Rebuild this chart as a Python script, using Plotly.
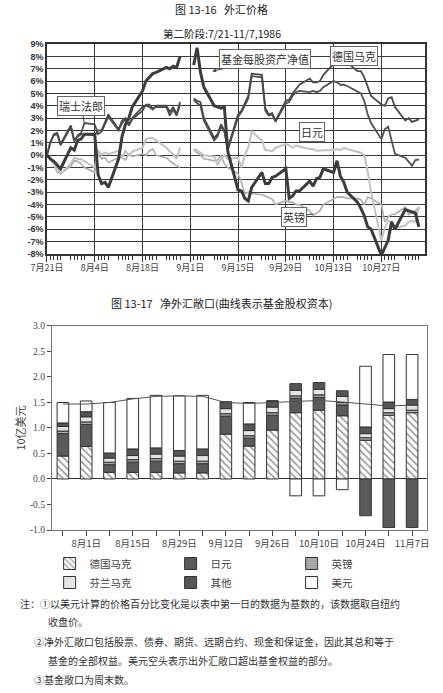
import pandas as pd
import plotly.graph_objects as go

# ---- 图 13-16 外汇价格 (daily % change vs 7/21, business days, 9/1 holiday) ----
days = pd.bdate_range("1986-07-21", "1986-11-07")

nav = [0, -0.3, -0.5, -0.8, -1.1,
       0.6, 0.4, 1.2, 1.3, 1.7,
       1.7, -1.6, -2.3, -2.2, -2.6,
       -0.3, 1.5, 2.5, 3.0, 3.9,
       5.2, 6.0, 6.3, 6.6, 6.7,
       7.1, 7.0, 7.2, 7.1, 8.0,
       None, 7.3, 8.7, 6.7, 5.5,
       4.0, 3.9, 3.8, 3.9, 0.3,
       -2.8, -2.9, -3.5, -3.7, -2.6,
       -1.4, -2.3, -2.3, -1.8, -1.7,
       -1.1, -3.5, -3.3, -2.9, -2.9,
       -2.1, -2.5, -1.9, -1.8, -1.1,
       -1.4, -0.45, -1.7, -2.2, -3.0,
       -3.8, -4.3, -4.9, -5.8, -6.0,
       -8.1, -7.5, -6.9, -5.4, -6.0,
       -4.4, -4.5, -4.6, -4.7, -5.8]

dm = [0, 1.0, 1.7, 1.8, 0.9,
      2.4, 1.2, 1.5, 1.7, 1.7,
      1.6, 2.0, 2.0, 2.6, 3.3,
      2.1, 2.8, 3.0, 2.5, 3.0,
      3.9, 4.0, 3.9, 3.7, 4.0,
      4.0, 3.5, 3.9, 3.3, 4.3,
      None, 4.6, 4.4, 4.3, 3.0,
      1.4, 1.7, 2.5, 2.0, 0.6,
      3.3, 3.6, 4.2, 4.8, 6.6,
      6.5, 3.8, 3.3, 3.4, 2.8,
      4.4, 4.5, 5.0, 5.4, 5.7,
      6.2, 5.9, 5.9, 6.0, 6.5,
      7.4, 7.3, 7.3, 7.4, 7.5,
      6.8, 6.8, 6.3, 5.6, 4.8,
      4.1, 4.0, 4.6, 4.7, 3.9,
      2.8, 3.0, 2.7, 2.8, 2.9]

chf = [0, 1.1, 1.6, 1.7, 0.8,
       2.3, 1.1, 1.6, 1.8, 2.6,
       2.5, 1.7, 1.9, 2.5, 3.1,
       2.0, 2.6, 2.9, 2.4, 2.9,
       3.6, 4.1, 4.1, 3.8, 3.9,
       3.9, 3.2, 3.7, 3.2, 4.1,
       None, 4.5, 4.2, 4.0, 2.8,
       1.2, 1.5, 2.3, 1.9, 0.4,
       3.1, 3.5, 4.0, 4.6, 6.4,
       6.3, 3.6, 3.2, 3.3, 2.7,
       4.2, 4.3, 4.8, 5.1, 5.2,
       5.1, 5.2, 5.1, 5.2, 5.5,
       6.0, 5.9, 5.7, 5.7, 5.6,
       5.1, 5.0, 4.4, 3.3, 2.6,
       1.3, 2.1, 2.3, 1.2, 0.1,
       -0.2, -0.5, -0.85, -0.4, -0.35]

yen = [0, -0.4, -0.7, -1.4, -1.5,
       -0.7, -0.2, -0.3, -0.3, -0.5,
       -1.0, 0.4, 0.0, 0.2, 0.1,
       0.35, -0.2, 0.35, 0.0, 0.3,
       0.6, 1.3, 1.4, 1.4, 1.2,
       0.6, 0.3, 0.1, -0.3, 0.6,
       None, 0.5, 0.4, 0.2, 0.0,
       -0.1, -0.8, -0.3, 0.0, -0.3,
       -0.2, -1.0, 0.0, 0.6, 1.9,
       1.2, 0.4, 0.4, 0.3, 0.6,
       0.9, 0.8, 0.6, 0.8, 0.7,
       0.5, 0.5, 0.35, 0.4, 0.4,
       0.4, 0.5, 0.4, 0.6, 0.5,
       0.3, 0.2, 0.0, -1.3, -3.0,
       -6.9, -5.9, -5.3, -5.4, -5.9,
       -5.7, -5.4, -5.3, -5.4, -4.2]

gbp = [0, -0.3, -0.6, -1.0, -1.5,
       -0.9, -0.45, -0.5, -0.7, -1.0,
       -1.4, 0.1, -0.3, -0.2, -0.6,
       -0.2, -0.2, -0.4, 0.1, -0.1,
       0.1, 0.0, 0.35, 0.5, 0.0,
       -0.2, -0.45, -0.7, -0.85, -1.0,
       None, 0.4, 0.2, 0.0, -0.3,
       -0.45, -0.4, 0.0, -0.7, -1.0,
       -1.5, -2.2, -3.1, -3.0, -3.1,
       -3.2, -3.3, -3.4, -3.55, -4.0,
       -3.7, -3.8, -3.8, -4.0, -4.0,
       -4.5, -4.9, -4.7, -4.5, -4.0,
       -3.6, -3.4, -3.4, -3.4, -3.5,
       -3.5, -3.6, -4.0, -3.4, -3.5,
       -4.0, -5.4, -5.0, -4.8, -4.8,
       -4.2, -4.8, -4.6, -4.5, -4.2]

top_ticks = pd.date_range("1986-07-21", periods=8, freq="14D")
top_ticktext = ["7月21日", "8月4日", "8月18日", "9月1日", "9月15日", "9月29日", "10月13日", "10月27日"]
pct_ticks = list(range(-8, 10))
pct_text = [f"{v}%" for v in pct_ticks]

# ---- 图 13-17 净外汇敞口 (weekly, 10亿美元) ----
weeks = pd.date_range("1986-07-25", periods=16, freq="7D")
week_text = ["", "8月1日", "", "8月15日", "", "8月29日", "", "9月12日",
             "", "9月26日", "", "10月10日", "", "10月24日", "", "11月7日"]

exp_dm = [0.45, 0.64, 0.13, 0.13, 0.13, 0.12, 0.12, 0.88, 0.645, 0.96, 1.30, 1.35, 1.24, 0.76, 1.25, 1.30]
exp_yen = [0.44, 0.43, 0.15, 0.20, 0.22, 0.18, 0.18, 0.35, 0.155, 0.29, 0.28, 0.25, 0.21, -0.72, -0.95, -0.95]
exp_gbp = [0.05, 0.05, 0.05, 0.05, 0.05, 0.05, 0.05, 0.05, 0.05, 0.05, 0.05, 0.05, 0.05, 0.05, 0.05, 0.05]
exp_fim = [0.09, 0.10, 0.08, 0.08, 0.09, 0.10, 0.11, 0.10, 0.10, 0.11, 0.11, 0.11, 0.12, 0.08, 0.08, 0.10]
exp_other = [0.07, 0.10, 0.10, 0.13, 0.12, 0.11, 0.13, 0.13, 0.13, 0.12, 0.13, 0.13, 0.11, 0.13, 0.13, 0.11]
exp_usd = [0.40, 0.21, 0.99, 0.99, 1.03, 1.07, 1.05, 0, 0.42, 0, -0.33, -0.33, -0.21, 1.19, 0.93, 0.88]
equity = [1.47, 1.47, 1.50, 1.57, 1.62, 1.63, 1.62, 1.50, 1.48, 1.50, 1.53, 1.54, 1.51, 1.47, 1.43, 1.45]

exp_ticks = [-1.0, -0.5, 0.0, 0.5, 1.0, 1.5, 2.0, 2.5, 3.0]
exp_ticktext = ["-1.0", "-0.5", "0.0", "0.5", "1.0", "1.5", "2.0", "2.5", "3.0"]

CJK = "Noto Sans CJK SC"
fig = go.Figure()

# top chart lines
line_specs = [
    ("英镑", gbp, "#adadad", 1.6),
    ("日元", yen, "#c2c2c2", 2.0),
    ("瑞士法郎", chf, "#505050", 1.8),
    ("德国马克", dm, "#4a4a4a", 1.8),
    ("基金每股资产净值", nav, "#3c3c3c", 3.0),
]
for name, vals, color, width in line_specs:
    fig.add_trace(go.Scatter(
        x=days, y=vals, mode="lines", name=name, showlegend=False,
        connectgaps=False, line=dict(color=color, width=width),
        xaxis="x", yaxis="y",
    ))

# bottom chart bars
bar_w = 3.5 * 86400000
bar_specs = [
    ("德国马克", exp_dm, "white", dict(shape="\\", fgcolor="#444", size=5, solidity=0.35)),
    ("日元", exp_yen, "#5a5a5a", None),
    ("英镑", exp_gbp, "#a0a0a0", dict(shape="-", fgcolor="#d0d0d0", size=3, solidity=0.3)),
    ("芬兰马克", exp_fim, "#e4e4e4", None),
    ("其他", exp_other, "#565656", None),
    ("美元", exp_usd, "white", None),
]
for name, vals, color, patt in bar_specs:
    marker = dict(color=color, line=dict(color="#333", width=1))
    if patt:
        marker["pattern"] = patt
    fig.add_trace(go.Bar(
        x=weeks, y=vals, name=name, width=bar_w, marker=marker,
        xaxis="x2", yaxis="y2",
    ))

fig.add_trace(go.Scatter(
    x=weeks, y=equity, mode="lines", showlegend=False,
    line=dict(color="#555", width=1), xaxis="x2", yaxis="y2",
))

fig.update_layout(
    width=443, height=693,
    margin=dict(l=0, r=0, t=0, b=0),
    paper_bgcolor="white", plot_bgcolor="white",
    font=dict(family=CJK, size=10, color="#333"),
    barmode="relative",
    xaxis=dict(
        domain=[0.106, 0.959], type="date", automargin=False,
        range=["1986-07-21", "1986-11-08 18:00"],
        tickvals=top_ticks, ticktext=top_ticktext,
        tickfont=dict(size=9, color="#444"), ticklabelstandoff=-2,
        showgrid=True, gridcolor="#3a3a3a", gridwidth=1.3,
        ticks="outside", ticklen=6, tickcolor="#333",
        minor=dict(tickvals=days, ticks="outside", ticklen=4, tickcolor="#333", showgrid=False),
        showline=True, mirror=True, linecolor="#333", linewidth=1.5,
        anchor="y",
    ),
    yaxis=dict(
        domain=[0.6335, 0.9365], range=[-8, 9], automargin=False,
        tickvals=pct_ticks, ticktext=pct_text,
        tickfont=dict(family="Liberation Sans", size=9, color="#333", weight="bold"),
        showgrid=True, gridcolor="#3a3a3a", gridwidth=1.3, zeroline=False,
        showline=True, mirror=True, linecolor="#333", linewidth=1.5,
        anchor="x",
    ),
    xaxis2=dict(
        domain=[0.117, 0.964], type="date", automargin=False,
        range=["1986-07-21 16:00", "1986-11-11 12:00"],
        tickvals=weeks, ticktext=week_text,
        tickfont=dict(size=9.5, color="#444"),
        showgrid=False, ticks="outside", ticklen=5, tickcolor="#444",
        showline=True, mirror=True, linecolor="#777", linewidth=1,
        anchor="y2",
    ),
    yaxis2=dict(
        domain=[0.2352, 0.5296], range=[-1, 3], automargin=False,
        tickvals=exp_ticks, ticktext=exp_ticktext,
        tickfont=dict(family="Liberation Serif", size=9.5, color="#444"),
        title=dict(text="10亿美元", font=dict(size=11, color="#444"), standoff=2),
        showgrid=False, zeroline=True, zerolinecolor="#333", zerolinewidth=1,
        ticks="outside", ticklen=4, tickcolor="#444",
        showline=True, mirror=True, linecolor="#777", linewidth=1,
        anchor="x2",
    ),
    legend=dict(
        orientation="h", x=0.112, y=1 - 549 / 693, xanchor="left", yanchor="top",
        entrywidth=76, entrywidthmode="pixels",
        font=dict(size=10.5, color="#444"), tracegroupgap=0,
    ),
)


def pxy(y):
    return 1 - y / 693


# titles
for t, y, size in [("图 13-16   外汇价格", 9, 11),
                   ("第二阶段:7/21-11/7,1986", 34, 10.5),
                   ("图 13-17   净外汇敞口(曲线表示基金股权资本)", 303, 11)]:
    fig.add_annotation(text=t, xref="paper", yref="paper", x=0.5, y=pxy(y),
                       yanchor="middle", showarrow=False, font=dict(size=size, color="#222"))

# labels on the top chart
box = dict(bordercolor="#666", borderwidth=1, bgcolor="white", borderpad=1,
           font=dict(size=11, color="#333"))
fig.add_annotation(text="瑞士法郎", x="1986-08-01", y=2.5, xref="x", yref="y",
                   showarrow=True, arrowhead=0, arrowcolor="#444", ax=-3, ay=-18, **box)
fig.add_annotation(text="基金每股资产净值", x="1986-09-07 10:00", y=6.8, xref="x", yref="y",
                   showarrow=True, arrowhead=2, arrowsize=0.8, arrowcolor="#444", ax=53, ay=-12, **box)
fig.add_annotation(text="德国马克", x="1986-10-19", y=8.05, xref="x", yref="y",
                   showarrow=False, **box)
fig.add_annotation(text="日元", x="1986-10-06 16:00", y=1.9, xref="x", yref="y",
                   showarrow=False, **box)
fig.add_annotation(text="英镑", x="1986-10-07", y=-4.75, xref="x", yref="y",
                   showarrow=True, arrowhead=0, arrowcolor="#444", ax=-19, ay=3, **box)

# notes
notes = [
    (18, 603, "注：①以美元计算的价格百分比变化是以表中第一日的数据为基数的，该数据取自纽约"),
    (46, 621, "收盘价。"),
    (32, 641, "②净外汇敞口包括股票、债券、期货、远期合约、现金和保证金，因此其总和等于"),
    (46, 660, "基金的全部权益。美元空头表示出外汇敞口超出基金权益的部分。"),
    (32, 679, "③基金敞口为周末数。"),
]
for x, y, t in notes:
    fig.add_annotation(text=t, xref="paper", yref="paper", x=x / 443, y=pxy(y),
                       xanchor="left", yanchor="middle", showarrow=False,
                       font=dict(size=10, color="#333"))

# page body has a default 8px margin; remove it so the figure sits at the window corner
fig.write_html("out.html", config={"displayModeBar": False},
               post_script="document.body.style.margin='0';")
